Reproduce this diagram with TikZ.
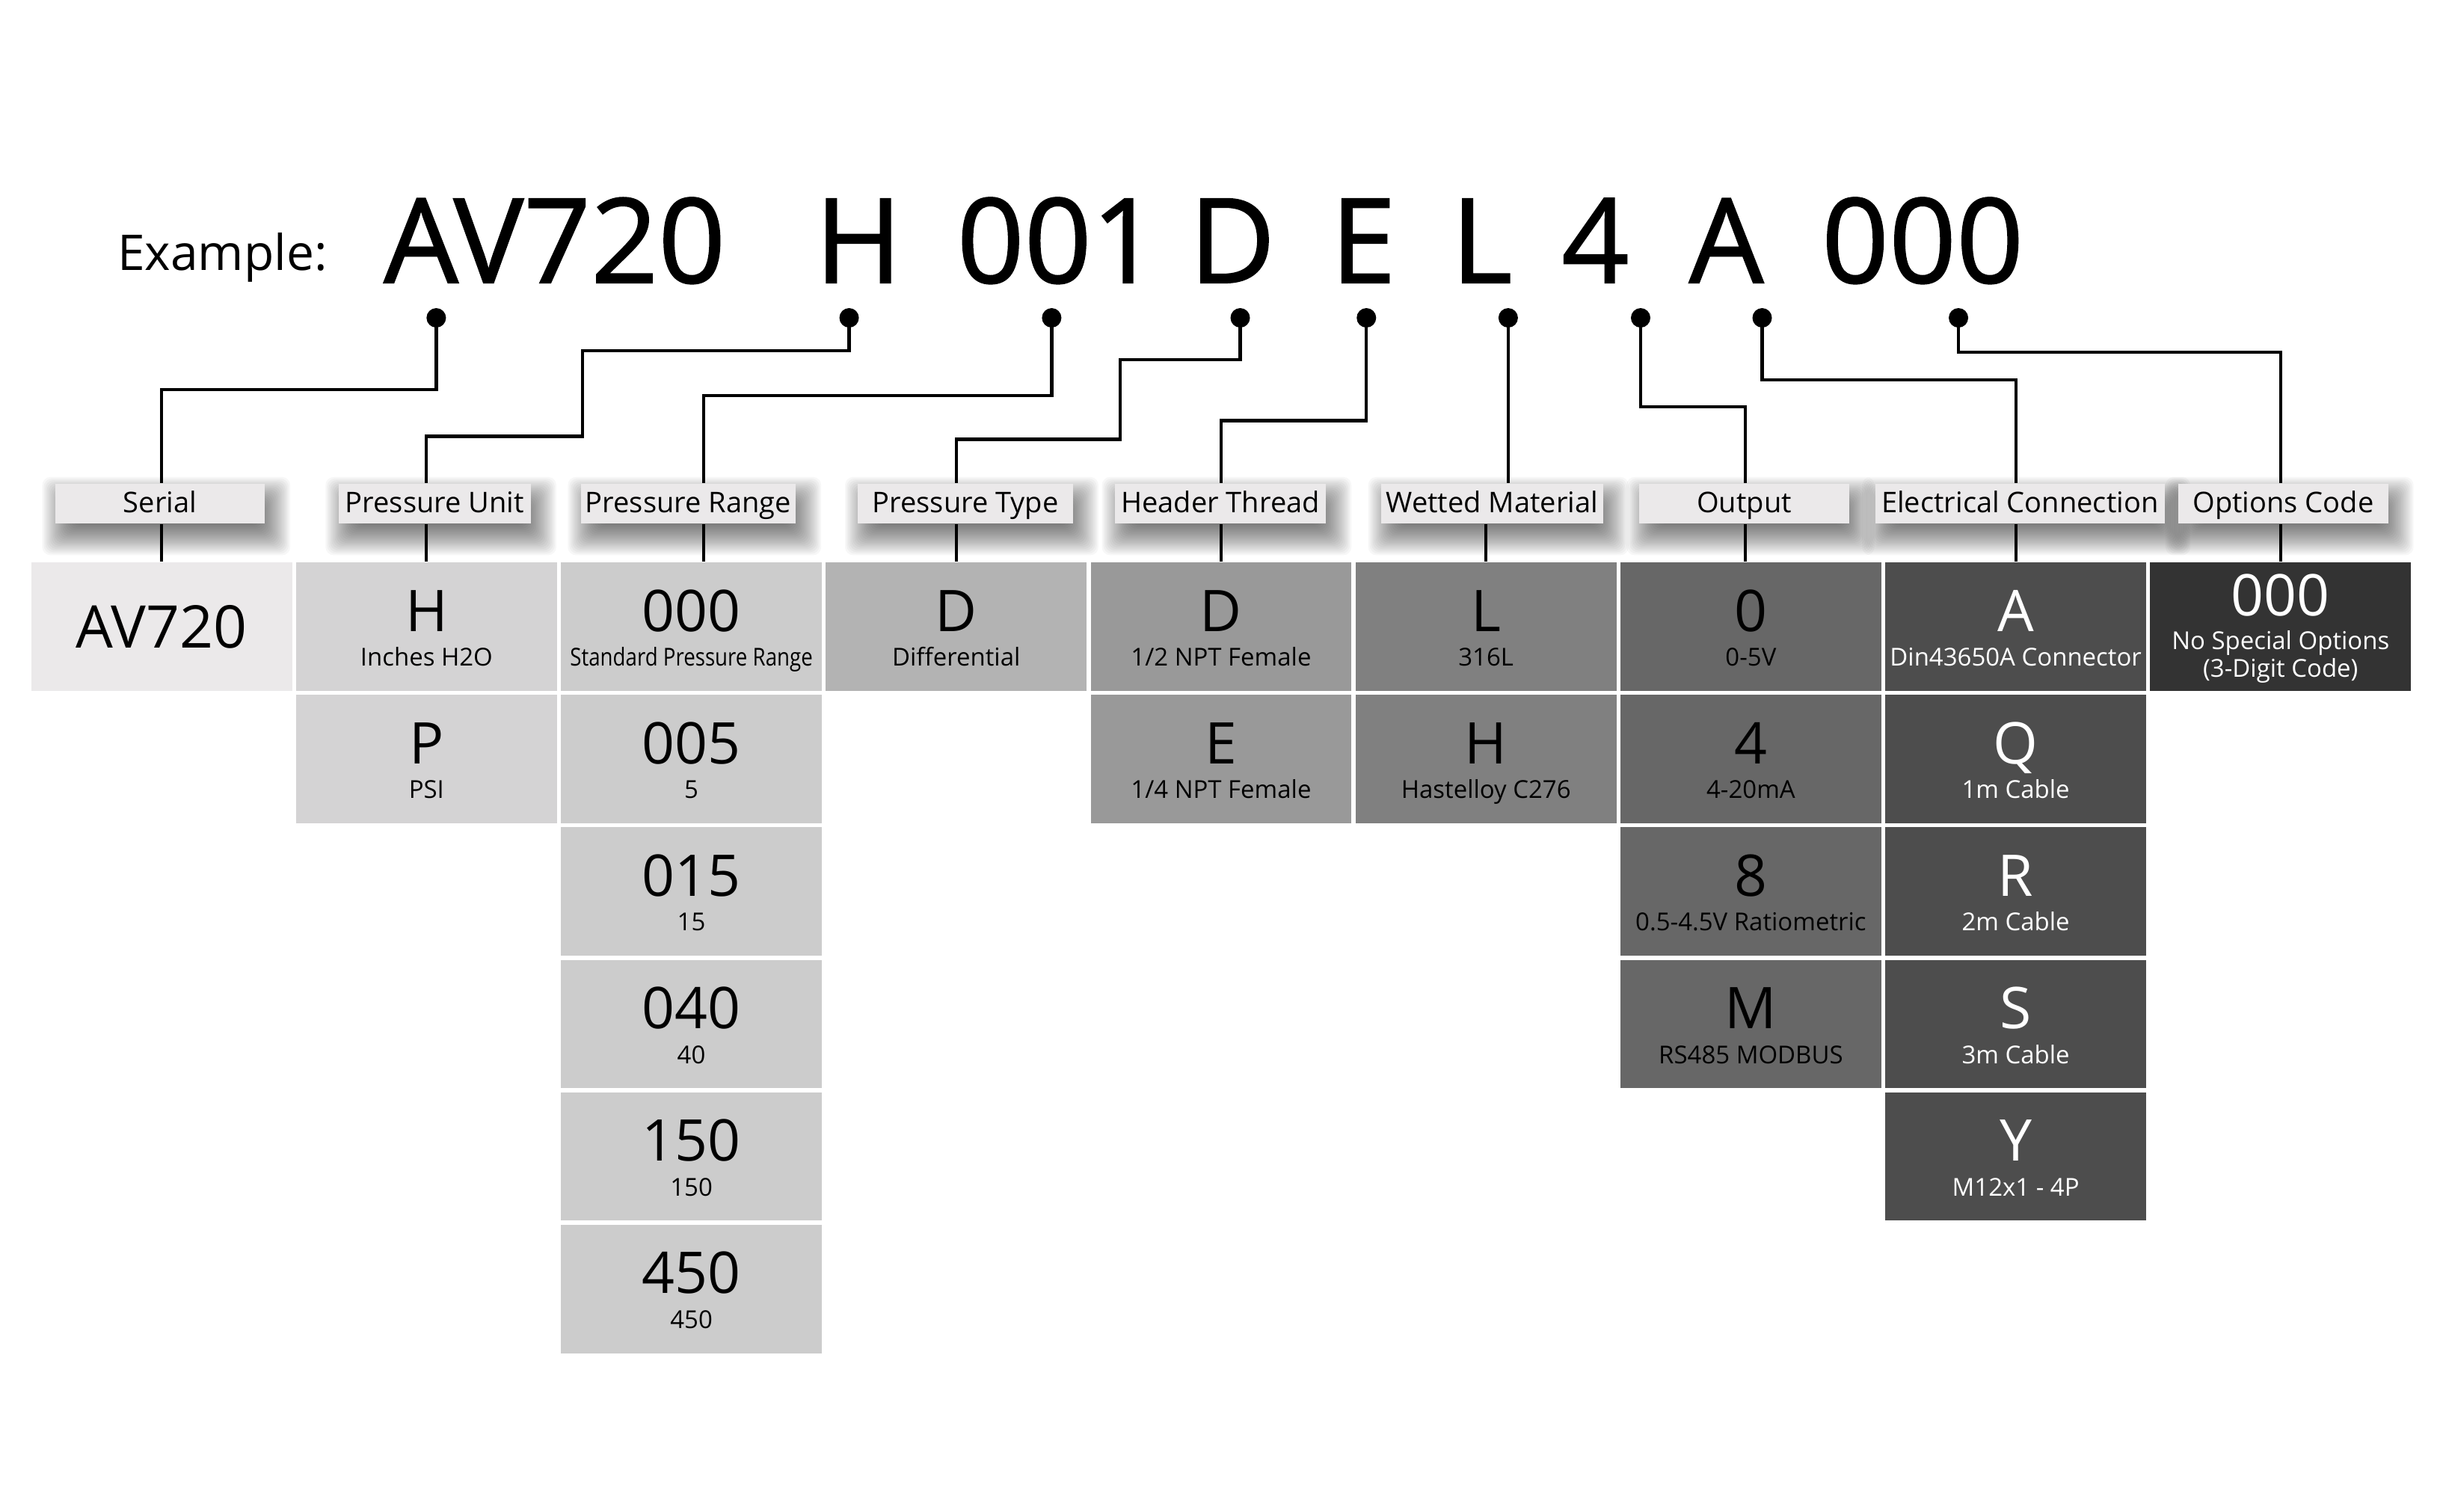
\documentclass[tikz,border=0pt]{standalone}
\usepackage{fontspec}
\setmainfont{Open Sans}
\newfontfamily\codefont[FakeBold=1.2]{Open Sans}
\usetikzlibrary{calc,backgrounds}
\definecolor{tagfill}{HTML}{EBE9EA}
\definecolor{shadeA}{HTML}{EBE9EA}
\definecolor{shadeB}{HTML}{D4D3D4}
\definecolor{shadeC}{HTML}{CCCCCC}
\definecolor{shadeD}{HTML}{B3B3B3}
\definecolor{shadeE}{HTML}{999999}
\definecolor{shadeF}{HTML}{808080}
\definecolor{shadeG}{HTML}{676767}
\definecolor{shadeH}{HTML}{4D4D4D}
\definecolor{shadeI}{HTML}{333333}
\tikzset{
    leader/.style={line width=1.15pt},
    codedot/.style={circle,fill=black,inner sep=0pt,minimum size=0.25cm},
    fieldtag/.style={fill=tagfill,minimum height=0.51cm,inner sep=0pt,text height=8pt,text depth=1.2pt,
        font=\fontsize{10.4}{12}\selectfont},
    tagshade/.style={black,fill opacity=0.032,rounded corners=3pt},
    optbox/.style={minimum width=3.35cm,minimum height=1.65cm,inner sep=0pt},
    optcode/.style={anchor=base,inner sep=0pt,font=\fontsize{21}{24}\selectfont},
    optdesc/.style={anchor=base,inner sep=0pt,font=\fontsize{9}{11}\selectfont},
    bigcode/.style={anchor=base,inner sep=0pt,font=\codefont\fontsize{43}{50}\selectfont},
}
% name, column, row, fill, ink, code, description
\newcommand{\optcell}[7]{%
    \node[optbox,fill=#4] (#1) at ({103.75+170*#2},{402.25+85*#3}) {};
    \node[optcode,text=#5] (#1code) at ($(#1.center)+(0,3)$) {#6};
    \node[optdesc,text=#5] (#1desc) at ($(#1.center)+(0,25.25)$) {#7};
}
% soft shadow under a field label
\newcommand{\tagshadow}[1]{%
    \foreach \s in {-8,-7,...,12}{
        \fill[tagshade] ($(#1.north west)+(4-\s,8-\s)$) rectangle ($(#1.south east)+(4+\s,8+\s)$);
    }
}

\begin{document}
\begin{tikzpicture}[x=0.02cm,y=-0.02cm]
    \begin{pgfonlayer}{background}
        \fill[white] (0,0) rectangle (1568,970);
    \end{pgfonlayer}
    \useasboundingbox (0,0) rectangle (1568,970);

    % example code
    \node[anchor=base west,inner sep=0pt,font=\fontsize{18}{22}\selectfont] (example) at (75,173.6) {Example:};
    \node[bigcode] (kSerial) at (356,181.5) {AV720};
    \node[bigcode] (kUnit) at (551,181.5) {H};
    \node[bigcode] (kRange) at (679,181.5) {001};
    \node[bigcode] (kType) at (791,181.5) {D};
    \node[bigcode] (kThread) at (875,181.5) {E};
    \node[bigcode] (kWet) at (951,181.5) {L};
    \node[bigcode] (kOut) at (1024,181.5) {4};
    \node[bigcode] (kElec) at (1108,181.5) {A};
    \node[bigcode] (kOpt) at (1234,181.5) {000};

    \node[codedot] (dSerial) at (280,204) {};
    \node[codedot] (dUnit) at (545,204) {};
    \node[codedot] (dRange) at (675,204) {};
    \node[codedot] (dType) at (796,204) {};
    \node[codedot] (dThread) at (877,204) {};
    \node[codedot] (dWet) at (968,204) {};
    \node[codedot] (dOut) at (1053,204) {};
    \node[codedot] (dElec) at (1131,204) {};
    \node[codedot] (dOpt) at (1257,204) {};

    % option table
    \node[optbox,fill=shadeA] (cSerial) at (103.75,402.25) {};
    \node[optcode,font=\fontsize{21.5}{24}\selectfont] (cSerialcode) at ($(cSerial.center)+(0,13.8)$) {AV720};

    \optcell{cUnit}{1}{0}{shadeB}{black}{H}{Inches H2O}
    \optcell{cUnitP}{1}{1}{shadeB}{black}{P}{PSI}

    \optcell{cRange}{2}{0}{shadeC}{black}{000}{\scalebox{0.84}[1]{Standard Pressure Range}}
    \optcell{cRangeA}{2}{1}{shadeC}{black}{005}{5}
    \optcell{cRangeB}{2}{2}{shadeC}{black}{015}{15}
    \optcell{cRangeC}{2}{3}{shadeC}{black}{040}{40}
    \optcell{cRangeD}{2}{4}{shadeC}{black}{150}{150}
    \optcell{cRangeE}{2}{5}{shadeC}{black}{450}{450}

    \optcell{cType}{3}{0}{shadeD}{black}{D}{Differential}

    \optcell{cThread}{4}{0}{shadeE}{black}{D}{1/2 NPT Female}
    \optcell{cThreadE}{4}{1}{shadeE}{black}{E}{1/4 NPT Female}

    \optcell{cWet}{5}{0}{shadeF}{black}{L}{316L}
    \optcell{cWetH}{5}{1}{shadeF}{black}{H}{Hastelloy C276}

    \optcell{cOut}{6}{0}{shadeG}{black}{0}{0-5V}
    \optcell{cOutB}{6}{1}{shadeG}{black}{4}{4-20mA}
    \optcell{cOutC}{6}{2}{shadeG}{black}{8}{0.5-4.5V Ratiometric}
    \optcell{cOutD}{6}{3}{shadeG}{black}{M}{RS485 MODBUS}

    \optcell{cElec}{7}{0}{shadeH}{white}{A}{Din43650A Connector}
    \optcell{cElecQ}{7}{1}{shadeH}{white}{Q}{1m Cable}
    \optcell{cElecR}{7}{2}{shadeH}{white}{R}{2m Cable}
    \optcell{cElecS}{7}{3}{shadeH}{white}{S}{3m Cable}
    \optcell{cElecY}{7}{4}{shadeH}{white}{Y}{M12x1 - 4P}

    \node[optbox,fill=shadeI] (cOpt) at (1463.75,402.25) {};
    \node[optcode,text=white] (cOptcode) at ($(cOpt.center)+(0,-7)$) {000};
    \node[optdesc,text=white] (cOptdesc) at ($(cOpt.center)+(0,14.5)$) {No Special Options};
    \node[optdesc,text=white] (cOptnote) at ($(cOpt.center)+(0,32.5)$) {(3-Digit Code)};

    % field labels
    \node[fieldtag,minimum width=2.69cm] (lSerial) at (102.7,323.25) {Serial};
    \node[fieldtag,minimum width=2.47cm] (lUnit) at (279,323.25) {Pressure Unit};
    \node[fieldtag,minimum width=2.76cm] (lRange) at (441.75,323.25) {Pressure Range};
    \node[fieldtag,minimum width=2.76cm] (lType) at (619.7,323.25) {Pressure Type};
    \node[fieldtag,minimum width=2.71cm] (lThread) at (783.3,323.25) {Header Thread};
    \node[fieldtag,minimum width=2.85cm] (lWet) at (957.7,323.25) {Wetted Material};
    \node[fieldtag,minimum width=2.69cm] (lOut) at (1119.5,323.25) {Output};
    \node[fieldtag,minimum width=3.72cm] (lElec) at (1296.5,323.25) {Electrical Connection};
    \node[fieldtag,minimum width=2.69cm] (lOpt) at (1465.5,323.25) {Options Code};

    \begin{pgfonlayer}{background}
        \foreach \t in {lSerial,lUnit,lRange,lType,lThread,lWet,lOut,lElec,lOpt}{
            \tagshadow{\t}
        }
    \end{pgfonlayer}

    \coordinate (tRange) at ([xshift=0.16cm]cRange.north);
    \coordinate (tOut) at ([xshift=-0.075cm]cOut.north);

    % leaders, dot to label
    \draw[leader] (dSerial.center) -- ++(0,46) -| (cSerial.north |- lSerial.north);
    \draw[leader] (dUnit.center) -- ++(0,21) -| (374,280) -| (cUnit.north |- lUnit.north);
    \draw[leader] (dRange.center) -- ++(0,50) -| (tRange |- lRange.north);
    \draw[leader] (dType.center) -- ++(0,27) -| (719,282) -| (cType.north |- lType.north);
    \draw[leader] (dThread.center) -- ++(0,66) -| (cThread.north |- lThread.north);
    \draw[leader] (dWet.center) -- (dWet |- lWet.north);
    \draw[leader] (dOut.center) -- ++(0,57) -| (tOut |- lOut.north);
    \draw[leader] (dElec.center) -- ++(0,40) -| (cElec.north |- lElec.north);
    \draw[leader] (dOpt.center) -- ++(0,22) -| (cOpt.north |- lOpt.north);

    % leaders, label to table
    \draw[leader] (cSerial.north |- lSerial.south) -- (cSerial.north);
    \draw[leader] (cUnit.north |- lUnit.south) -- (cUnit.north);
    \draw[leader] (tRange |- lRange.south) -- (tRange);
    \draw[leader] (cType.north |- lType.south) -- (cType.north);
    \draw[leader] (cThread.north |- lThread.south) -- (cThread.north);
    \draw[leader] (cWet.north |- lWet.south) -- (cWet.north);
    \draw[leader] (tOut |- lOut.south) -- (tOut);
    \draw[leader] (cElec.north |- lElec.south) -- (cElec.north);
    \draw[leader] (cOpt.north |- lOpt.south) -- (cOpt.north);
\end{tikzpicture}
\end{document}
